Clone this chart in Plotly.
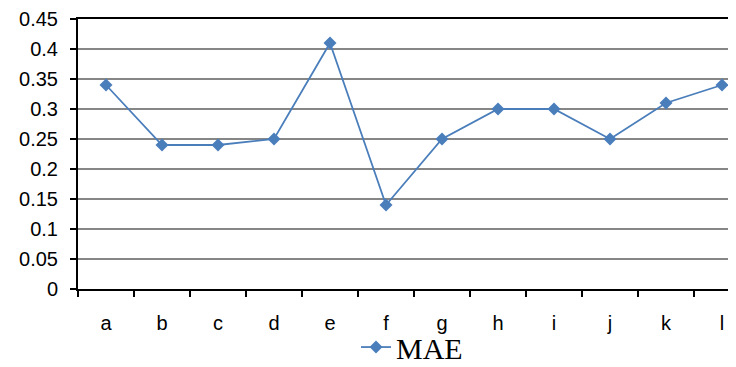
import plotly.graph_objects as go

categories = ["a", "b", "c", "d", "e", "f", "g", "h", "i", "j", "k", "l"]
mae = [0.34, 0.24, 0.24, 0.25, 0.41, 0.14, 0.25, 0.30, 0.30, 0.25, 0.31, 0.34]
y_ticks = [0, 0.05, 0.1, 0.15, 0.2, 0.25, 0.3, 0.35, 0.4, 0.45]
y_tick_labels = ["0", "0.05", "0.1", "0.15", "0.2", "0.25", "0.3", "0.35", "0.4", "0.45"]

fig = go.Figure()
fig.add_trace(go.Scatter(
    x=categories, y=mae, name="MAE", mode="lines+markers",
    line=dict(color="#4A7EBB", width=1.8),
    marker=dict(symbol="diamond", size=10, color="#4A7EBB"),
))

# page body has an 8px default margin; margins below compensate for it
fig.update_layout(
    width=742, height=373,
    margin=dict(l=70, r=0, t=6, b=92),
    plot_bgcolor="white", paper_bgcolor="white",
    font=dict(family="Liberation Sans, Arial", size=20, color="black"),
    showlegend=True,
    legend=dict(
        orientation="h", x=0.497, xanchor="center", y=-0.215, yanchor="middle",
        font=dict(family="Liberation Serif, Times New Roman", size=30, color="black"),
        bgcolor="rgba(0,0,0,0)",
    ),
    xaxis=dict(
        type="category", range=[-0.5, 11.5],
        showline=True, linecolor="black", linewidth=2, mirror=True,
        ticks="outside", ticklen=6, tickcolor="black", tickwidth=2,
        tickson="boundaries", showgrid=False,
        ticklabelstandoff=15, ticklabeloverflow="allow",
    ),
    yaxis=dict(
        range=[0, 0.45], tickvals=y_ticks, ticktext=y_tick_labels,
        showline=True, linecolor="black", linewidth=2,
        ticks="outside", ticklen=6, tickcolor="black", tickwidth=2,
        showgrid=True, gridcolor="#868686", gridwidth=2,
        zeroline=False, ticklabelstandoff=8, ticklabeloverflow="allow",
    ),
)

fig.write_html("out.html")
